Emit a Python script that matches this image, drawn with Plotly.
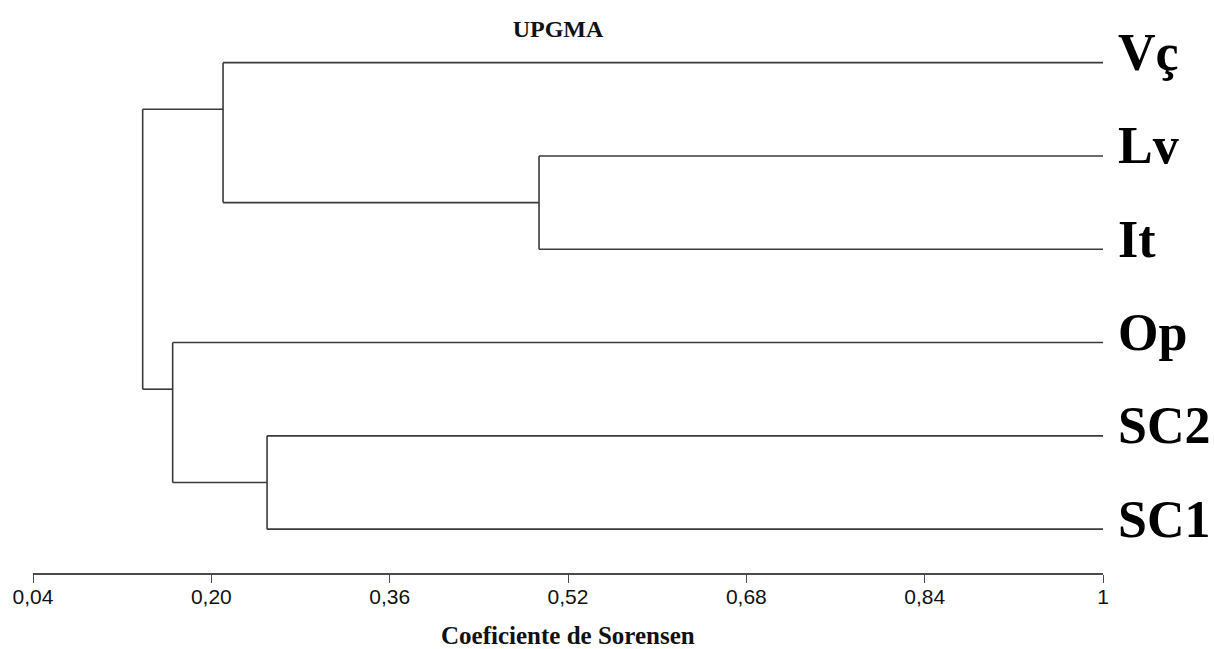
import plotly.graph_objects as go

# ---- data ----
leaf_labels = ["Vç", "Lv", "It", "Op", "SC2", "SC1"]
leaf_pos = [0, 1, 2, 3, 4, 5]          # vertical order of the leaves
leaf_height = 1.0                       # similarity of a leaf with itself

# merges: (child_a, child_b, name, similarity, attach position of the new cluster)
merge_a = ["Lv", "SC2", "Vç", "Op", "A"]
merge_b = ["It", "SC1", "LvIt", "SC", "B"]
merge_name = ["LvIt", "SC", "A", "B", "root"]
merge_sim = [0.494, 0.250, 0.2105, 0.1653, 0.1384]
merge_attach = [1.5, 4.5, 0.5, 3.5, 2.0]

tick_vals = [0.04, 0.20, 0.36, 0.52, 0.68, 0.84, 1.0]
tick_text = ["0,04", "0,20", "0,36", "0,52", "0,68", "0,84", "1"]

# ---- build dendrogram segments ----
pos = {lab: p for lab, p in zip(leaf_labels, leaf_pos)}
hgt = {lab: leaf_height for lab in leaf_labels}
xs, ys = [], []
for a, b, name, s, att in zip(merge_a, merge_b, merge_name, merge_sim, merge_attach):
    for c in (a, b):
        xs += [s, hgt[c], None]
        ys += [pos[c], pos[c], None]
    xs += [s, s, None]
    ys += [pos[a], pos[b], None]
    pos[name] = att
    hgt[name] = s

fig = go.Figure()
fig.add_trace(go.Scatter(x=xs, y=ys, mode="lines",
                         line=dict(color="#3a3a3a", width=1.6),
                         hoverinfo="skip", showlegend=False))

for lab, p in zip(leaf_labels, leaf_pos):
    fig.add_annotation(x=leaf_height, y=p, xref="x", yref="y", text=f"<b>{lab}</b>",
                       showarrow=False, xanchor="left", yanchor="middle", xshift=13, yshift=10,
                       font=dict(family="Liberation Serif", size=52, color="black"))

# x-axis title
fig.add_annotation(x=0.5, y=0, xref="paper", yref="paper", text="<b>Coeficiente de Sorensen</b>",
                   showarrow=False, xanchor="center", yanchor="middle", yshift=-62,
                   font=dict(family="Liberation Serif", size=25, color="#111"))

fig.update_layout(
    width=1214, height=649,
    margin=dict(l=33, r=111, t=16, b=76, autoexpand=False),
    plot_bgcolor="white", paper_bgcolor="white",
    title=dict(text="<b>UPGMA</b>", x=558 / 1214, xanchor="center",
               y=1 - 28.5 / 649, yanchor="middle",
               font=dict(family="Liberation Serif", size=24, color="#111")),
    xaxis=dict(range=[0.04, 1.0], tickvals=tick_vals, ticktext=tick_text, automargin=False,
               showgrid=False, zeroline=False, showline=True, linecolor="#4a4a4a", linewidth=1.5,
               ticks="outside", ticklen=8, tickwidth=1.2, tickcolor="#4a4a4a",
               ticklabelstandoff=-4,
               tickfont=dict(family="Liberation Sans", size=21, color="#111")),
    yaxis=dict(range=[5.47, -0.5], visible=False, showgrid=False, zeroline=False, automargin=False),
)

fig.write_html("out.html", config={"displayModeBar": False},
               post_script="document.body.style.margin='0px';document.body.style.overflow='hidden';")
